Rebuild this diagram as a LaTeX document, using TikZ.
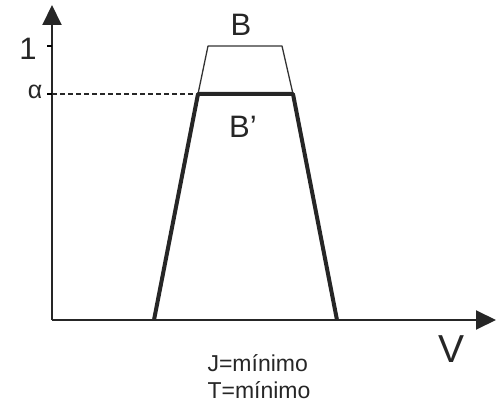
\documentclass[tikz,border=0pt]{standalone}
\usepackage{fontspec}
\setmainfont{Liberation Sans}
\usepackage{tikz}
\usetikzlibrary{arrows.meta, positioning}

\begin{document}
\begin{tikzpicture}[
  x=1pt, y=-1pt,
  axis/.style={line width=2pt, color=black!85, -{Triangle[length=20pt, width=19pt]}},
  thinset/.style={line width=1.3pt, color=black!80, line join=round},
  thickset/.style={line width=4pt, color=black!85, line join=round},
  guide/.style={line width=1.3pt, dashed, dash pattern=on 5pt off 3pt, color=black!85},
  lbl/.style={inner sep=0pt, text=black!85},
  bigfont/.style={font=\fontsize{31}{31}\selectfont},
  smallfont/.style={font=\fontsize{23}{27}\selectfont, align=left}
]
\useasboundingbox (0,0) rectangle (496,409);

% axes
\coordinate (O) at (52,320);
\draw[axis] (O) -- (52,5);
\draw[axis] (O) -- (496,320);

% ticks
\draw[line width=1.3pt] (47,46) -- (52,46);
\draw[line width=1.3pt] (47,94) -- (52,94);

% fuzzy set B (thin) and cut B' (thick)
\draw[thinset] (198,94) -- (208,46) -- (282,46) -- (293,94);
\draw[thickset] (154,320) -- (198,94) -- (293,94) -- (337,320);
\draw[guide] (52,94) -- (196,94);

% labels
\node[lbl, bigfont] (one) at (28,49) {1};
\node[lbl, font=\fontsize{25}{25}\selectfont] (alpha) at (35,92) {α};
\node[lbl, bigfont] (setB) at (241,25) {B};
\node[lbl, bigfont] (setBp) at (243,127) {B’};
\node[lbl, font=\fontsize{39}{39}\selectfont] (axV) at (452,349) {V};
\node[lbl, smallfont] (cond) at (259,377) {J=mínimo\\T=mínimo};

\end{tikzpicture}
\end{document}
